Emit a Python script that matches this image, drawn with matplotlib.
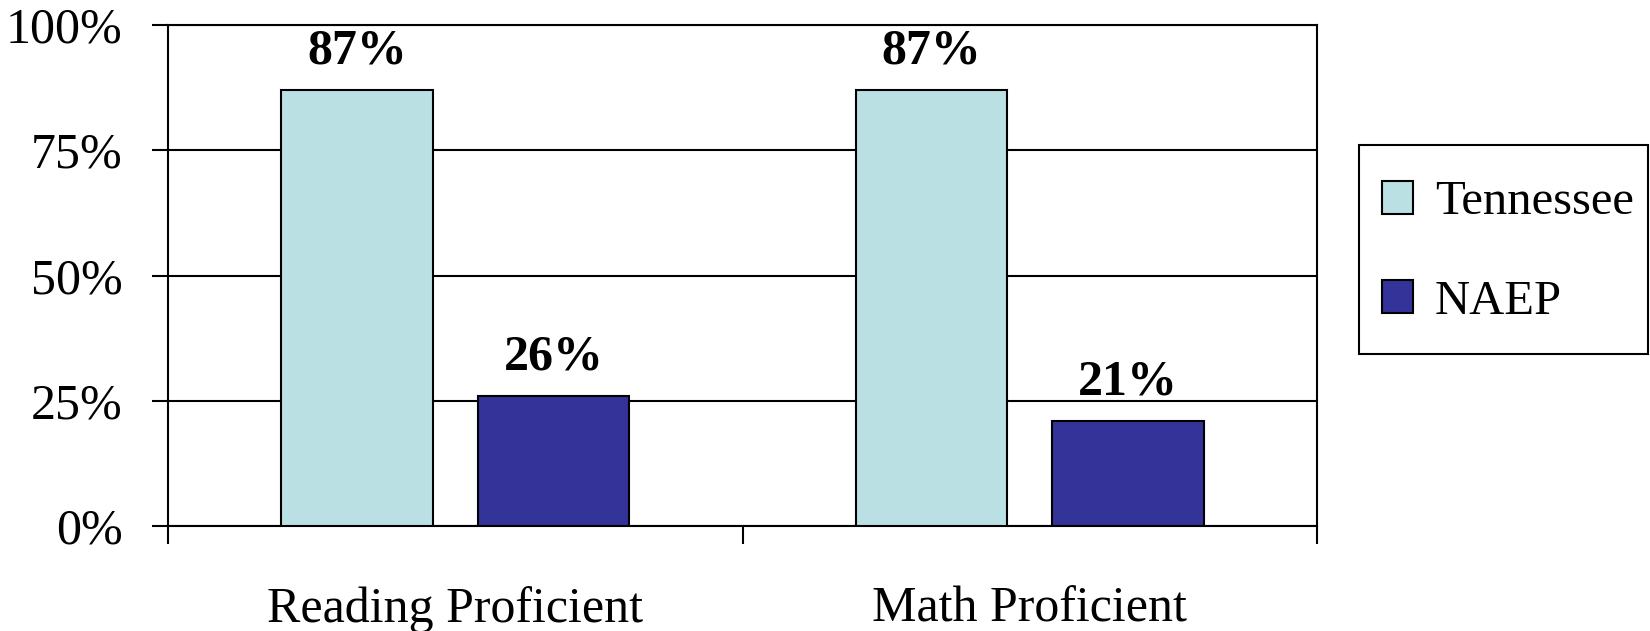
import matplotlib.pyplot as plt
import matplotlib.patches as patches
import numpy as np

# datos
categorias = ['Reading Proficient', 'Math Proficient']
series = ['Tennessee', 'NAEP']
tennessee = [87, 87]
naep = [26, 21]
colores = ['#BAE0E3', '#333399']

plt.rcParams['font.family'] = ['Liberation Serif', 'DejaVu Serif']

W, H = 1650, 631
fig = plt.figure(figsize=(W/100, H/100), dpi=100)
ax = fig.add_axes([168/W, 1-526/H, (1317-168)/W, (526-25)/H])

x = np.arange(len(categorias))
ancho = 0.263
desp = 0.171
b1 = ax.bar(x - desp, tennessee, ancho, color=colores[0], edgecolor='black', linewidth=1.5, label=series[0], zorder=3)
b2 = ax.bar(x + desp, naep, ancho, color=colores[1], edgecolor='black', linewidth=1.5, label=series[1], zorder=3)

for barras, vals in [(b1, tennessee), (b2, naep)]:
    for b, v in zip(barras, vals):
        ax.annotate('%d%%' % v, (b.get_x() + b.get_width()/2, v), xytext=(0, 19),
                    textcoords='offset points', ha='center', va='baseline',
                    fontsize=36, fontweight='bold')

ax.set_xlim(-0.5, len(categorias) - 0.5)
ax.set_ylim(0, 100)
ax.set_yticks([0, 25, 50, 75, 100])
ax.set_yticklabels(['0%', '25%', '50%', '75%', '100%'])
ax.tick_params(axis='y', labelsize=36, length=11.5, width=1.5, pad=21, direction='out')
ax.yaxis.grid(True, color='black', linewidth=1.5, zorder=0)
ax.set_axisbelow(True)

# ticks entre categorias, etiquetas en el centro
ax.set_xticks([-0.5, 0.5, 1.5])
ax.set_xticklabels(['', '', ''])
ax.tick_params(axis='x', which='major', length=13, width=1.5, direction='out')
ax.set_xticks(x, minor=True)
ax.set_xticklabels(categorias, minor=True)
ax.tick_params(axis='x', which='minor', length=0, labelsize=36, pad=43)

for s in ax.spines.values():
    s.set_linewidth(1.5)

# caja de la leyenda
caja = patches.Rectangle((1359/W, 1-354/H), 289/W, 209/H, transform=fig.transFigure,
                         facecolor='white', edgecolor='black', linewidth=1.5, zorder=1)
fig.add_artist(caja)

leg = fig.legend(loc='center left', bbox_to_anchor=(1382/W, 1-252/H), fontsize=35,
                 frameon=False, handlelength=0.64, handleheight=0.68, handletextpad=0.45,
                 labelspacing=1.14, borderpad=0, borderaxespad=0)
leg.set_zorder(2)

fig.savefig('out.png', dpi=100)
